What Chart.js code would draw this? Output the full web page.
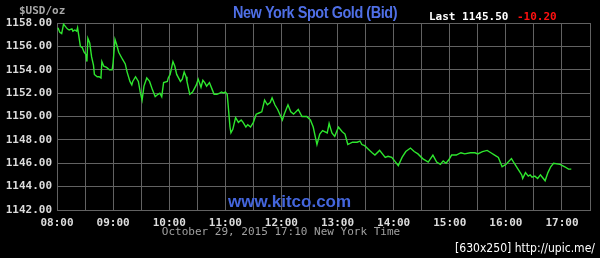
<!DOCTYPE html>
<html><head><meta charset="utf-8">
<script src="https://cdn.jsdelivr.net/npm/chart.js@4.4.1/dist/chart.umd.min.js"></script>
<style>
html,body{margin:0;padding:0;background:#000;width:600px;height:258px;overflow:hidden;}
canvas{display:block;}
</style></head><body>
<canvas id="c" width="600" height="258"></canvas>
<script>
// Minutes after 08:00 New York time
const minutes = [1,3,5,7,11,13,16,17,19,21,22,25,27,29,31,32,33,35,37,39,40,43,45,47,48,50,53,56,59,60,62,64,66,70,73,75,78,80,81,84,87,89,91,93,96,99,102,105,108,110,112,114,118,119,121,124,126,128,132,134,136,138,139,142,145,149,151,154,156,158,160,163,166,168,171,174,176,178,180,182,183,185,186,188,191,194,197,199,202,204,207,210,213,216,219,222,225,228,230,233,236,241,243,247,250,253,258,262,267,271,274,278,281,284,289,291,294,297,301,305,308,311,316,321,324,326,329,333,337,340,345,351,354,358,361,365,369,373,378,382,386,391,397,402,406,410,413,416,419,422,427,432,436,442,447,450,455,460,464,468,472,476,480,486,489,493,497,498,501,504,506,508,511,514,517,519,522,525,528,531,538,543,547,550];
// Bid price, USD/oz
const prices = [1157.6,1157.2,1157.1,1157.9,1157.5,1157.4,1157.5,1157.3,1157.4,1157.3,1157.6,1156.0,1155.9,1155.5,1155.3,1154.7,1156.7,1156.3,1155.1,1154.4,1153.6,1153.4,1153.4,1153.3,1154.7,1154.3,1154.2,1154.0,1154.0,1154.6,1156.6,1156.1,1155.5,1154.9,1154.5,1153.8,1153.0,1152.7,1153.0,1153.4,1153.0,1152.1,1151.4,1152.6,1153.3,1153.0,1152.3,1151.7,1151.9,1152.0,1151.7,1152.9,1153.0,1153.3,1153.6,1154.7,1154.3,1153.6,1153.0,1153.2,1153.8,1153.4,1153.0,1151.9,1152.1,1152.7,1153.2,1152.5,1153.1,1152.9,1152.6,1152.9,1152.3,1151.9,1151.9,1152.0,1152.1,1152.0,1152.1,1151.9,1151.0,1149.1,1148.6,1148.9,1149.9,1149.5,1149.7,1149.5,1149.1,1149.3,1149.1,1149.5,1150.2,1150.3,1150.4,1151.4,1151.0,1151.2,1151.6,1151.0,1150.6,1149.7,1150.2,1151.0,1150.4,1150.2,1150.6,1150.0,1150.0,1149.7,1149.1,1147.6,1148.5,1148.8,1148.6,1149.4,1148.6,1148.3,1149.1,1148.7,1148.5,1147.6,1147.8,1147.8,1147.9,1147.6,1147.5,1147.2,1146.9,1146.7,1147.1,1146.5,1146.6,1146.5,1146.2,1145.8,1146.5,1147.0,1147.3,1147.0,1146.8,1146.4,1146.1,1146.7,1146.1,1145.9,1146.2,1146.0,1146.3,1146.7,1146.7,1146.9,1146.8,1146.9,1146.9,1146.8,1147.0,1147.1,1146.9,1146.7,1146.5,1145.7,1145.9,1146.4,1146.0,1145.5,1145.0,1144.7,1145.2,1144.9,1145.0,1144.8,1144.9,1144.7,1145.0,1144.8,1144.5,1145.2,1145.7,1146.0,1145.9,1145.7,1145.5,1145.5];
const xTickLabels = ['08:00','09:00','10:00','11:00','12:00','13:00','14:00','15:00','16:00','17:00'];
const yTickValues = [1142,1144,1146,1148,1150,1152,1154,1156,1158];
const titleText = 'New York Spot Gold (Bid)';
const lastText = 'Last 1145.50';
const changeText = '-10.20';
const unitText = '$USD/oz';
const siteText = 'www.kitco.com';
const dateText = 'October 29, 2015 17:10 New York Time';
const stampText = '[630x250] http://upic.me/';

const points = minutes.map((m, i) => ({x: m, y: prices[i]}));
const mono = 'bold 11px "DejaVu Sans Mono", monospace';

const textPlugin = {
  id: 'texts',
  afterDraw(chart) {
    const ctx = chart.ctx;
    ctx.save();
    ctx.textBaseline = 'alphabetic';
    ctx.font = mono;
    ctx.fillStyle = '#a8a8a8';
    ctx.textAlign = 'left';
    ctx.fillText(unitText, 19, 14);
    ctx.font = 'bold 16px "Liberation Sans", Arial, sans-serif';
    ctx.fillStyle = '#4f6fe6';
    ctx.textAlign = 'left';
    if ('letterSpacing' in ctx) ctx.letterSpacing = '-0.5px';
    ctx.fillText(titleText, 233, 18, 164);
    if ('letterSpacing' in ctx) ctx.letterSpacing = '0px';
    ctx.font = mono;
    ctx.textAlign = 'left';
    ctx.fillStyle = '#ffffff';
    ctx.fillText(lastText, 429, 20);
    ctx.fillStyle = '#ff1010';
    ctx.fillText(changeText, 517, 20);
    ctx.font = 'bold 17px "Liberation Sans", Arial, sans-serif';
    ctx.fillStyle = '#4466dd';
    ctx.fillText(siteText, 228, 207, 125);
    ctx.font = '11px "DejaVu Sans Mono", monospace';
    ctx.fillStyle = '#a0a0a0';
    ctx.textAlign = 'center';
    ctx.fillText(dateText, 281, 235);
    ctx.font = '13px "DejaVu Sans", sans-serif';
    ctx.fillStyle = '#ffffff';
    ctx.textAlign = 'left';
    ctx.fillText(stampText, 455, 252, 140);
    ctx.restore();
  }
};

new Chart(document.getElementById('c'), {
  type: 'line',
  data: { datasets: [{ data: points, borderColor: '#2ee62e', borderWidth: 1.4, pointRadius: 0, tension: 0, fill: false }] },
  options: {
    responsive: false, animation: false, devicePixelRatio: 1,
    layout: { padding: { left: 0, right: 10, top: 23, bottom: 0 } },
    plugins: { legend: { display: false }, tooltip: { enabled: false } },
    scales: {
      x: {
        type: 'linear', min: 0, max: 570,
        afterFit(s) { s.height = 48; },
        grid: { color: '#626262', lineWidth: 1, drawTicks: false },
        border: { color: '#626262' },
        ticks: {
          stepSize: 30, autoSkip: false, maxRotation: 0, padding: 7,
          color: '#dcdcdc', font: { family: '"DejaVu Sans Mono", monospace', size: 11, weight: 'bold' },
          callback: v => (v % 60 === 0 ? xTickLabels[v / 60] : '')
        }
      },
      y: {
        min: yTickValues[0], max: yTickValues[yTickValues.length - 1],
        afterFit(s) { s.width = 57; },
        afterBuildTicks(s) { s.ticks = yTickValues.map(v => ({ value: v })); },
        grid: { color: '#626262', lineWidth: 1, drawTicks: false },
        border: { color: '#626262' },
        ticks: {
          padding: 5, color: '#dcdcdc',
          font: { family: '"DejaVu Sans Mono", monospace', size: 11, weight: 'bold' },
          callback: v => Number(v).toFixed(2)
        }
      }
    }
  },
  plugins: [textPlugin]
});
</script>
</body></html>
